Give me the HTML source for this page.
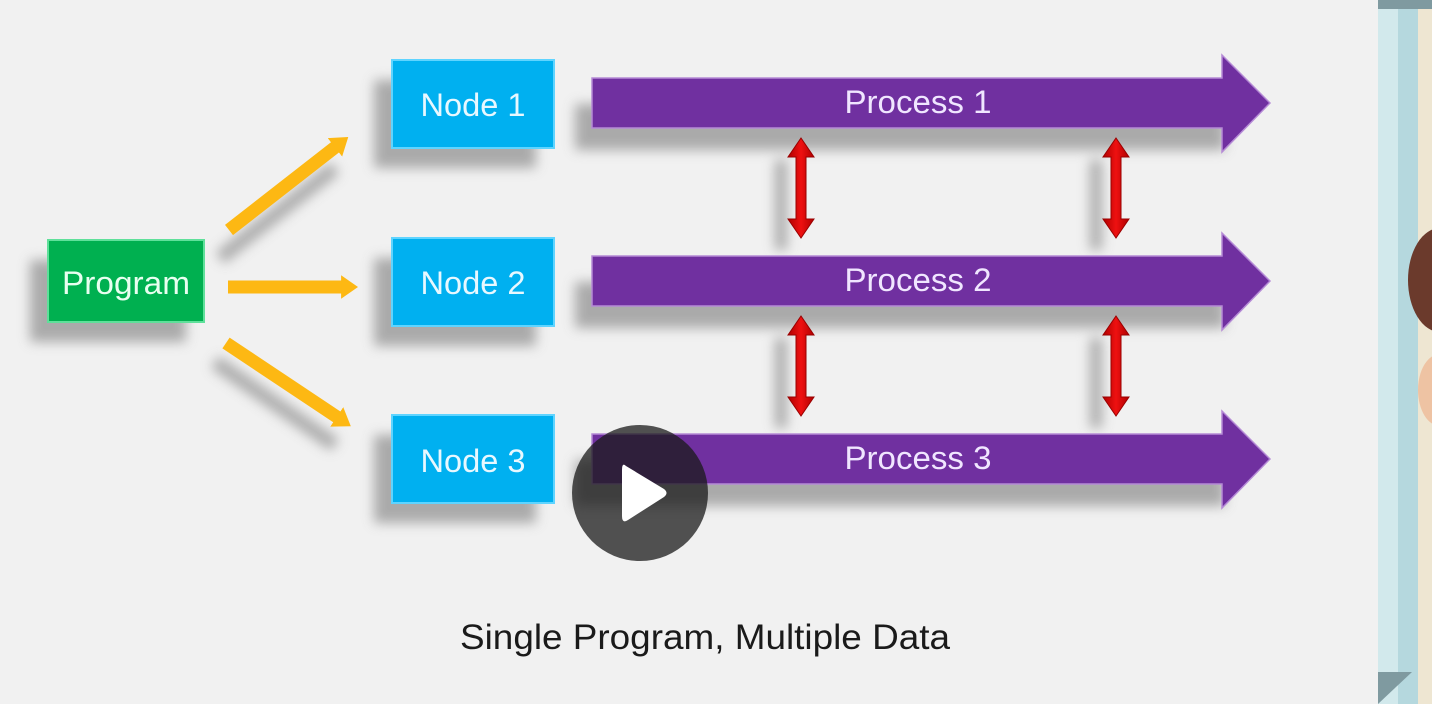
<!DOCTYPE html>
<html><head><meta charset="utf-8"><style>
html,body{margin:0;padding:0;background:#f1f1f1;}
svg{display:block}
text{font-family:"Liberation Sans",sans-serif;}
</style></head><body>
<svg width="1432" height="704" viewBox="0 0 1432 704" xmlns="http://www.w3.org/2000/svg">
<defs>
<filter id="sh" x="-20%" y="-40%" width="140%" height="200%"><feGaussianBlur stdDeviation="6"/></filter>
<marker id="ya" markerWidth="3" markerHeight="3" refX="0.3" refY="1" orient="auto" markerUnits="strokeWidth"><path d="M0,0.1 L1.3,1 L0,1.9Z" fill="#fdb813"/></marker>
<linearGradient id="rg" x1="0" x2="1"><stop offset="0" stop-color="#b00000"/><stop offset="0.5" stop-color="#ee1111"/><stop offset="1" stop-color="#b00000"/></linearGradient>
</defs>
<rect width="1432" height="704" fill="#f1f1f1"/>
<!-- right panel -->
<rect x="1378" y="0" width="54" height="704" fill="#b5d8de"/>
<rect x="1378" y="0" width="20" height="704" fill="#d2e9ec"/>
<rect x="1418" y="0" width="14" height="704" fill="#eee6d2"/>
<rect x="1378" y="0" width="54" height="9" fill="#7f9aa0"/>
<path d="M1378,672 L1412,672 L1378,704Z" fill="#7f9aa0"/>
<ellipse cx="1440" cy="280" rx="32" ry="52" fill="#6b3a2c"/>
<ellipse cx="1440" cy="390" rx="22" ry="36" fill="#eec3a3"/>
<!-- shadows -->
<g fill="#999" opacity="0.8" filter="url(#sh)">
<rect x="30" y="260" width="156" height="82"/>
<rect x="374" y="80" width="162" height="88"/>
<rect x="374" y="258" width="162" height="88"/>
<rect x="374" y="435" width="162" height="88"/>
<rect x="575" y="104" width="650" height="46"/>
<rect x="575" y="282" width="650" height="46"/>
<rect x="575" y="460" width="650" height="46"/>
<rect x="775" y="160" width="12" height="90"/>
<rect x="1090" y="160" width="12" height="90"/>
<rect x="775" y="338" width="12" height="90"/>
<rect x="1090" y="338" width="12" height="90"/>
<path d="M220,258 L335,168" stroke="#999" stroke-width="14"/>
<path d="M215,362 L335,445" stroke="#999" stroke-width="14"/>
</g>
<!-- program -->
<rect x="48" y="240" width="156" height="82" fill="#00b050" stroke="#5fe09a" stroke-width="2"/>
<text x="126" y="294" font-size="32" fill="#e8fff0" text-anchor="middle" textLength="128" lengthAdjust="spacingAndGlyphs">Program</text>
<!-- nodes -->
<g fill="#00b0f0" stroke="#5fd4ff" stroke-width="2">
<rect x="392" y="60" width="162" height="88"/>
<rect x="392" y="238" width="162" height="88"/>
<rect x="392" y="415" width="162" height="88"/>
</g>
<g font-size="32" fill="#e8f8ff" text-anchor="middle">
<text x="473" y="116" textLength="105" lengthAdjust="spacingAndGlyphs">Node 1</text>
<text x="473" y="294" textLength="105" lengthAdjust="spacingAndGlyphs">Node 2</text>
<text x="473" y="472" textLength="105" lengthAdjust="spacingAndGlyphs">Node 3</text>
</g>
<!-- yellow arrows -->
<g stroke="#fdb813" stroke-width="13" fill="none">
<path d="M229,230 L338,145" marker-end="url(#ya)"/>
<path d="M228,287 L345,287" marker-end="url(#ya)"/>
<path d="M226,343 L340,419" marker-end="url(#ya)"/>
</g>
<!-- process arrows -->
<g fill="#7030a0" stroke="#b58ad6" stroke-width="1.5">
<path d="M592,78 L1222,78 L1222,55 L1270,103 L1222,152 L1222,128 L592,128Z"/>
<path d="M592,256 L1222,256 L1222,233 L1270,281 L1222,330 L1222,306 L592,306Z"/>
<path d="M592,434 L1222,434 L1222,411 L1270,459 L1222,508 L1222,484 L592,484Z"/>
</g>
<g font-size="32" fill="#f0e6ff" text-anchor="middle">
<text x="918" y="113" textLength="147" lengthAdjust="spacingAndGlyphs">Process 1</text>
<text x="918" y="291" textLength="147" lengthAdjust="spacingAndGlyphs">Process 2</text>
<text x="918" y="469" textLength="147" lengthAdjust="spacingAndGlyphs">Process 3</text>
</g>
<!-- red double arrows -->
<g fill="url(#rg)" stroke="#900" stroke-width="1">
<path d="M801,138 L814,157 L806,157 L806,219 L814,219 L801,238 L788,219 L796,219 L796,157 L788,157Z"/>
<path d="M1116,138 L1129,157 L1121,157 L1121,219 L1129,219 L1116,238 L1103,219 L1111,219 L1111,157 L1103,157Z"/>
<path d="M801,316 L814,335 L806,335 L806,397 L814,397 L801,416 L788,397 L796,397 L796,335 L788,335Z"/>
<path d="M1116,316 L1129,335 L1121,335 L1121,397 L1129,397 L1116,416 L1103,397 L1111,397 L1111,335 L1103,335Z"/>
</g>
<!-- caption -->
<text x="705" y="649" font-size="35" fill="#1a1a1a" text-anchor="middle" textLength="490" lengthAdjust="spacingAndGlyphs">Single Program, Multiple Data</text>
<!-- play button -->
<circle cx="640" cy="493" r="68" fill="#1a1a1a" opacity="0.75"/>
<path d="M626,466 Q622,462 622,470 L622,516 Q622,524 628,520 L664,497 Q669,493 664,489Z" fill="#fff"/>
</svg>
</body></html>
